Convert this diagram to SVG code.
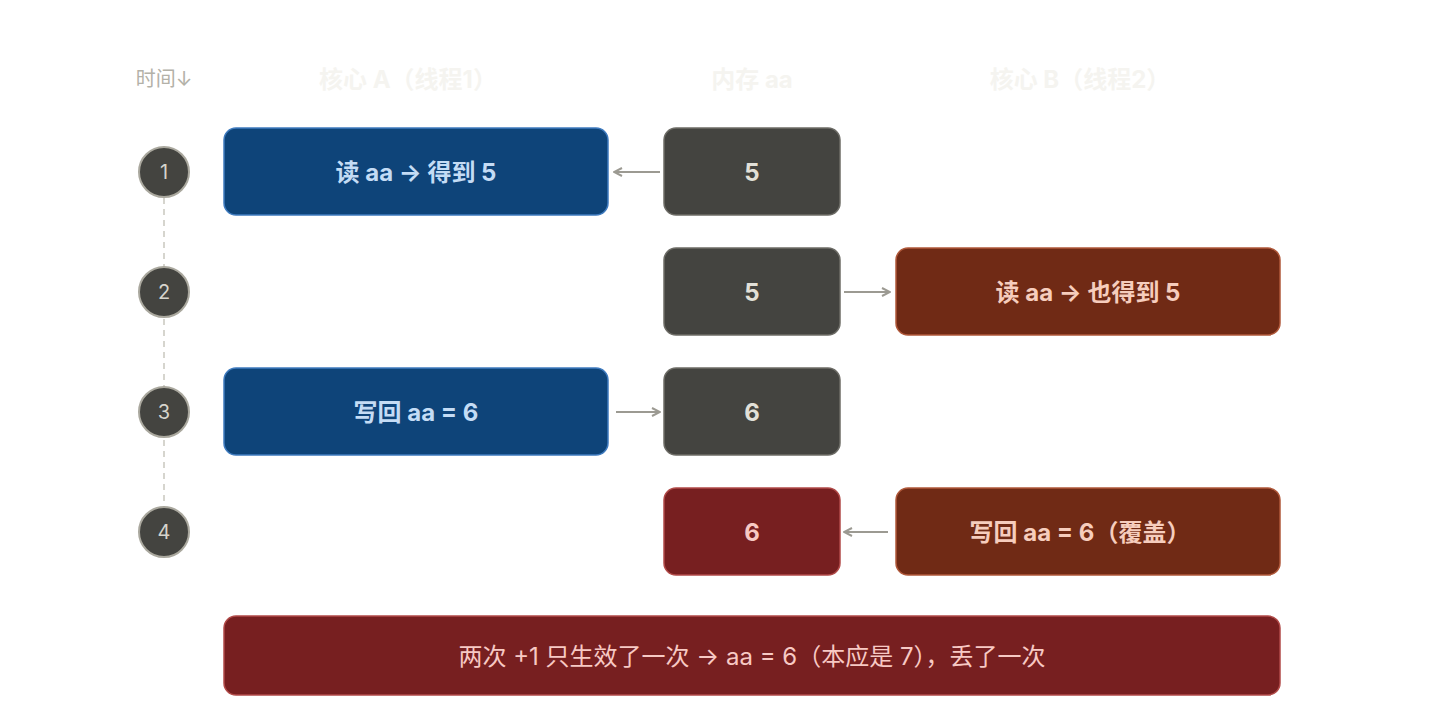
<svg xmlns="http://www.w3.org/2000/svg" width="1440" height="720" viewBox="0 0 1440 720">
<style>
text{font-family:Inter,"Noto Sans CJK SC",sans-serif;text-anchor:middle;dominant-baseline:central}
.hd{font-size:24px;font-weight:700;fill:#f5f4f0}
.blue rect{fill:#0e4479;stroke:#3f7bbf;stroke-width:1.5}
.blue text{fill:#c4dcf5;font-size:24px;font-weight:700}
.mem rect{fill:#444440;stroke:#6d6c66;stroke-width:1.5}
.mem text{fill:#e2e0d8;font-size:24px;font-weight:700}
.brn rect{fill:#702a15;stroke:#b0583a;stroke-width:1.5}
.brn text{fill:#f6cdbd;font-size:24px;font-weight:700}
.red rect{fill:#771f20;stroke:#b14a48;stroke-width:1.5}
.red text{fill:#f7c9c4;font-size:24px;font-weight:700}
.step circle{fill:#444440;stroke:#aaa89e;stroke-width:2}
.step text{fill:#d6d4cc;font-size:20px}
.cn line{stroke:#9c9a92;stroke-width:2;marker-end:url(#ah)}
</style>
<defs><marker id="ah" viewBox="0 0 10 10" refX="9" refY="5" markerWidth="10" markerHeight="10" markerUnits="userSpaceOnUse" orient="auto"><path d="M1 1L9 5L1 9" fill="none" stroke="#9c9a92" stroke-width="2"/></marker></defs>
<rect width="1440" height="720" fill="#fff"/>
<text x="164" y="79" style="font-size:20px;fill:#b3b1a8">时间↓</text>
<text class="hd" x="408" y="79">核心 A（线程1）</text>
<text class="hd" x="752" y="79">内存 aa</text>
<text class="hd" x="1080" y="79">核心 B（线程2）</text>
<line x1="164" y1="198" x2="164" y2="506" stroke="#c9c7bf" stroke-width="1.5" stroke-dasharray="6 5"/>
<g id="s1" class="step"><circle cx="164" cy="172" r="25"/><text x="164" y="172">1</text></g>
<g id="s2" class="step"><circle cx="164" cy="292" r="25"/><text x="164" y="292">2</text></g>
<g id="s3" class="step"><circle cx="164" cy="412" r="25"/><text x="164" y="412">3</text></g>
<g id="s4" class="step"><circle cx="164" cy="532" r="25"/><text x="164" y="532">4</text></g>
<g id="a1" class="blue"><rect x="224" y="128" width="384" height="87" rx="12"/><text x="416" y="172">读 aa → 得到 5</text></g>
<g id="m1" class="mem"><rect x="664" y="128" width="176" height="87" rx="12"/><text x="752" y="172">5</text></g>
<g id="m2" class="mem"><rect x="664" y="248" width="176" height="87" rx="12"/><text x="752" y="292">5</text></g>
<g id="b2" class="brn"><rect x="896" y="248" width="384" height="87" rx="12"/><text x="1088" y="292">读 aa → 也得到 5</text></g>
<g id="a3" class="blue"><rect x="224" y="368" width="384" height="87" rx="12"/><text x="416" y="412">写回 aa = 6</text></g>
<g id="m3" class="mem"><rect x="664" y="368" width="176" height="87" rx="12"/><text x="752" y="412">6</text></g>
<g id="m4" class="red"><rect x="664" y="488" width="176" height="87" rx="12"/><text x="752" y="532">6</text></g>
<g id="b4" class="brn"><rect x="896" y="488" width="384" height="87" rx="12"/><text x="1080" y="532">写回 aa = 6（覆盖）</text></g>
<g id="sum" class="red"><rect x="224" y="616" width="1056" height="79" rx="12"/><text x="752" y="656" style="font-weight:400">两次 +1 只生效了一次 → aa = 6（本应是 7），丢了一次</text></g>
<g id="connectors" class="cn">
<line x1="660" y1="172" x2="614" y2="172"/>
<line x1="844" y1="292" x2="890" y2="292"/>
<line x1="616" y1="412" x2="660" y2="412"/>
<line x1="888" y1="532" x2="844" y2="532"/>
</g>
</svg>
